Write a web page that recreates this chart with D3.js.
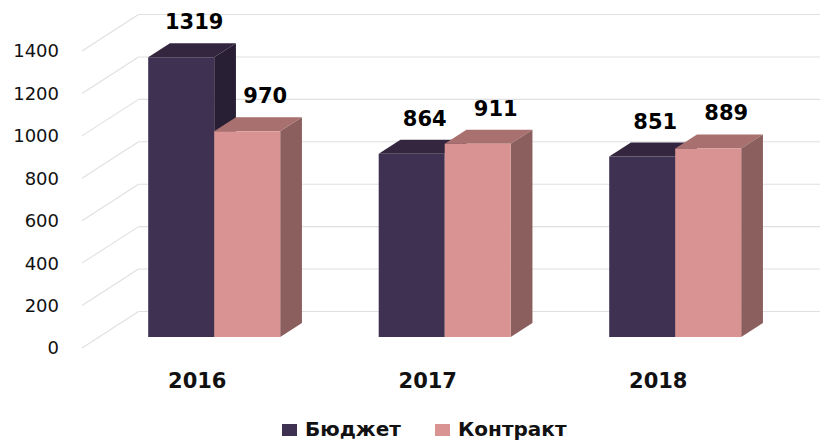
<!DOCTYPE html>
<html>
<head>
<meta charset="utf-8">
<script src="https://cdn.jsdelivr.net/npm/d3@7"></script>
<style>
  body { margin: 0; background: #fff; }
  svg { display: block; font-family: "DejaVu Sans", Verdana, sans-serif; }
</style>
</head>
<body>
<div id="chart"></div>
<script>
var years = ["2016", "2017", "2018"];
var seriesNames = ["Бюджет", "Контракт"];
var budget = [1319, 864, 851];
var contract = [970, 911, 889];
var ticks = [0, 200, 400, 600, 800, 1000, 1200, 1400];

var width = 820, height = 441;
var DX = 56.5, DY = 36.5;        // depth offset of the back wall
var barW = 66;
var f1 = 0.30, f2 = 0.685;       // bar front/back as fraction of depth

var faces = [
    { front: "#3f3151", top: "#33263e", side: "#291f34" },
    { front: "#d99392", top: "#a8716f", side: "#8b5f5e" }
];

var svg = d3.select("#chart").append("svg")
    .attr("width", width)
    .attr("height", height);

var x = d3.scaleBand().domain(years).range([82, 773.5]);
var y = d3.scaleLinear().domain([0, 1400]).range([348, 51]);

function pt(px, v, f) {
    return [px + f * DX, y(v) - f * DY];
}

// gridlines: left wall diagonals + back wall horizontals
var grid = svg.append("g").attr("stroke", "#e0e0e0").attr("stroke-width", 1.1);
grid.selectAll("line.diag")
    .data(ticks).join("line")
    .attr("class", "diag")
    .attr("x1", x.range()[0]).attr("y1", d => y(d))
    .attr("x2", x.range()[0] + DX).attr("y2", d => y(d) - DY);
grid.selectAll("line.back")
    .data(ticks).join("line")
    .attr("class", "back")
    .attr("x1", x.range()[0] + DX).attr("y1", d => y(d) - DY)
    .attr("x2", width).attr("y2", d => y(d) - DY);

// y tick labels
svg.append("g").selectAll("text")
    .data(ticks).join("text")
    .attr("x", 59)
    .attr("y", d => y(d))
    .attr("dy", "0.36em")
    .attr("text-anchor", "end")
    .attr("font-size", 18)
    .attr("fill", "#111")
    .text(d => d);

// bars
var bars = [];
years.forEach(function(yr, i) {
    [budget[i], contract[i]].forEach(function(v, s) {
        var x0 = x(yr) + x.bandwidth() / 2 - barW + s * barW;
        bars.push({ year: yr, s: s, v: v, x0: x0 });
    });
});

var poly = d => d.map(p => p.join(",")).join(" ");

var g = svg.append("g").selectAll("g")
    .data(bars).join("g");

g.append("polygon")   // top
    .attr("points", d => poly([pt(d.x0, d.v, f1), pt(d.x0 + barW, d.v, f1), pt(d.x0 + barW, d.v, f2), pt(d.x0, d.v, f2)]))
    .attr("fill", d => faces[d.s].top);
g.append("polygon")   // side
    .attr("points", d => poly([pt(d.x0 + barW, 0, f1), pt(d.x0 + barW, d.v, f1), pt(d.x0 + barW, d.v, f2), pt(d.x0 + barW, 0, f2)]))
    .attr("fill", d => faces[d.s].side);
g.append("polygon")   // front
    .attr("points", d => poly([pt(d.x0, 0, f1), pt(d.x0 + barW, 0, f1), pt(d.x0 + barW, d.v, f1), pt(d.x0, d.v, f1)]))
    .attr("fill", d => faces[d.s].front);

// value labels
svg.append("g").selectAll("text")
    .data(bars).join("text")
    .attr("x", d => pt(d.x0 + barW / 2, d.v, f1)[0] + (d.s === 0 ? 13 : 18))
    .attr("y", d => pt(d.x0, d.v, f1)[1] - 28)
    .attr("text-anchor", "middle")
    .attr("font-size", 21)
    .attr("font-weight", "bold")
    .attr("fill", "#000")
    .text(d => d.v);

// category labels
svg.append("g").selectAll("text")
    .data(years).join("text")
    .attr("x", d => x(d) + x.bandwidth() / 2)
    .attr("y", 388)
    .attr("text-anchor", "middle")
    .attr("font-size", 21)
    .attr("font-weight", "bold")
    .attr("fill", "#111")
    .text(d => d);

// legend
var legendX = [282, 435];
var leg = svg.append("g").selectAll("g")
    .data(seriesNames).join("g")
    .attr("transform", (d, i) => "translate(" + legendX[i] + ",0)");
leg.append("rect")
    .attr("x", 0).attr("y", 424)
    .attr("width", 15).attr("height", 12)
    .attr("fill", (d, i) => faces[i].front);
leg.append("text")
    .attr("x", 23).attr("y", 436)
    .attr("font-size", 20)
    .attr("font-weight", "bold")
    .attr("fill", "#111")
    .text(d => d);
</script>
</body>
</html>
